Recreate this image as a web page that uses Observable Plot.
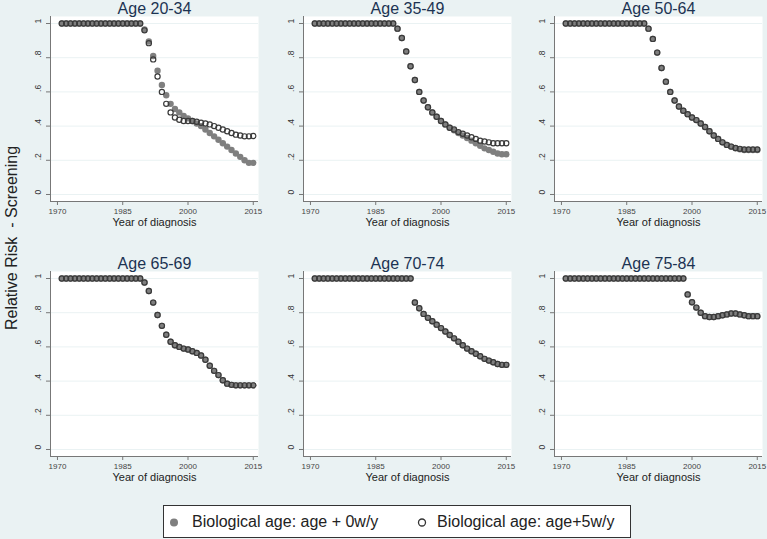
<!DOCTYPE html>
<html>
<head>
<meta charset="utf-8">
<script src="https://cdn.jsdelivr.net/npm/d3@7"></script>
<script src="https://cdn.jsdelivr.net/npm/@observablehq/plot@0.6"></script>
<style>
  html, body { margin: 0; padding: 0; background: #EAF2F3; }
  #wrap { position: relative; width: 767px; height: 539px; background: #EAF2F3; overflow: hidden;
          font-family: "Liberation Sans", Arial, sans-serif; }
  .panel { position: absolute; width: 262px; }
  .panel svg { max-width: none; }
  #ytitle { position: absolute; left: 12px; top: 238px; transform: translate(-50%, -50%) rotate(-90deg);
            white-space: pre; font-size: 16px; color: #222; }
  #legend { position: absolute; left: 163px; top: 505px; width: 468px; height: 33px; background: #fff;
            border: 1px solid #333; box-sizing: border-box; }
  #legend span.t { position: absolute; top: 7px; font-size: 16px; color: #222; white-space: pre; }
  #legend svg { position: absolute; top: 0; left: 0; }
</style>
</head>
<body>
<div id="wrap"></div>
<script>
// ---------- data ----------
const years = d3.range(1971, 2016); // 1971 ... 2015
const xTicks = [1970, 1985, 2000, 2015];
const yTicks = [0, 0.2, 0.4, 0.6, 0.8, 1];
const yTickLabels = ["0", ".2", ".4", ".6", ".8", "1"];
const panelTitles = ["Age 20-34", "Age 35-49", "Age 50-64", "Age 65-69", "Age 70-74", "Age 75-84"];
const seriesNames = ["Biological age: age + 0w/y", "Biological age: age+5w/y"];

// Age 20-34
const age20_34_0w = [1,1,1,1,1,1,1,1,1,1,1,1,1,1,1,1,1,1,1,
  0.965,0.895,0.81,0.724,0.64,0.58,0.53,0.50,0.48,0.46,0.445,0.43,0.415,0.40,0.38,0.36,0.34,0.32,0.30,0.28,0.26,0.24,0.22,0.20,0.185,0.185];
const age20_34_5w = [1,1,1,1,1,1,1,1,1,1,1,1,1,1,1,1,1,1,1,
  0.96,0.885,0.79,0.69,0.60,0.53,0.48,0.45,0.437,0.43,0.43,0.43,0.425,0.42,0.415,0.41,0.40,0.39,0.38,0.37,0.36,0.35,0.345,0.34,0.34,0.342];
// Age 35-49
const age35_49_0w = [1,1,1,1,1,1,1,1,1,1,1,1,1,1,1,1,1,1,1,
  0.97,0.915,0.837,0.75,0.67,0.60,0.55,0.51,0.48,0.455,0.43,0.41,0.39,0.375,0.36,0.345,0.33,0.315,0.30,0.285,0.27,0.26,0.25,0.24,0.235,0.235];
const age35_49_5w = [1,1,1,1,1,1,1,1,1,1,1,1,1,1,1,1,1,1,1,
  0.97,0.915,0.837,0.75,0.67,0.60,0.55,0.51,0.48,0.455,0.43,0.41,0.39,0.38,0.365,0.355,0.345,0.335,0.325,0.315,0.31,0.305,0.30,0.30,0.30,0.30];
// Age 50-64
const age50_64_0w = [1,1,1,1,1,1,1,1,1,1,1,1,1,1,1,1,1,1,1,
  0.97,0.91,0.83,0.74,0.66,0.60,0.55,0.515,0.49,0.47,0.45,0.435,0.415,0.395,0.37,0.345,0.325,0.305,0.29,0.28,0.27,0.265,0.26,0.26,0.26,0.26];
const age50_64_5w = [1,1,1,1,1,1,1,1,1,1,1,1,1,1,1,1,1,1,1,
  0.97,0.91,0.83,0.74,0.66,0.60,0.55,0.515,0.49,0.47,0.45,0.435,0.415,0.395,0.37,0.345,0.325,0.305,0.29,0.28,0.272,0.267,0.263,0.263,0.263,0.263];
// Age 65-69
const age65_69_0w = [1,1,1,1,1,1,1,1,1,1,1,1,1,1,1,1,1,1,1,
  0.977,0.927,0.859,0.787,0.723,0.671,0.63,0.61,0.60,0.59,0.585,0.575,0.565,0.55,0.525,0.49,0.46,0.435,0.405,0.385,0.378,0.375,0.375,0.375,0.375,0.375];
const age65_69_5w = [1,1,1,1,1,1,1,1,1,1,1,1,1,1,1,1,1,1,1,
  0.977,0.927,0.859,0.787,0.723,0.671,0.63,0.61,0.60,0.59,0.585,0.575,0.565,0.55,0.525,0.49,0.46,0.435,0.405,0.385,0.378,0.375,0.375,0.375,0.375,0.375];
// Age 70-74
const age70_74_0w = [1,1,1,1,1,1,1,1,1,1,1,1,1,1,1,1,1,1,1,1,1,1,1,
  0.86,0.826,0.793,0.77,0.75,0.73,0.71,0.69,0.67,0.65,0.63,0.61,0.59,0.575,0.56,0.545,0.53,0.52,0.51,0.50,0.495,0.495];
const age70_74_5w = [1,1,1,1,1,1,1,1,1,1,1,1,1,1,1,1,1,1,1,1,1,1,1,
  0.86,0.826,0.793,0.77,0.75,0.73,0.71,0.69,0.67,0.65,0.63,0.61,0.59,0.575,0.56,0.545,0.53,0.52,0.51,0.50,0.495,0.495];
// Age 75-84
const age75_84_0w = [1,1,1,1,1,1,1,1,1,1,1,1,1,1,1,1,1,1,1,1,1,1,1,1,1,1,1,1,
  0.907,0.861,0.83,0.80,0.78,0.775,0.775,0.78,0.785,0.79,0.795,0.795,0.79,0.785,0.78,0.78,0.78];
const age75_84_5w = [1,1,1,1,1,1,1,1,1,1,1,1,1,1,1,1,1,1,1,1,1,1,1,1,1,1,1,1,
  0.907,0.861,0.83,0.80,0.78,0.775,0.775,0.78,0.785,0.79,0.795,0.795,0.79,0.785,0.78,0.78,0.78];

const seriesA = [age20_34_0w, age35_49_0w, age50_64_0w, age65_69_0w, age70_74_0w, age75_84_0w];
const seriesB = [age20_34_5w, age35_49_5w, age50_64_5w, age65_69_5w, age70_74_5w, age75_84_5w];

// ---------- drawing ----------
const wrap = document.getElementById("wrap");
const font = '"Liberation Sans", Arial, sans-serif';
const colLeft = [0, 253, 504];
const rowTop = [0, 255];
const xDomain = [1968.4, 2016.2];
const yDomain = [-0.041, 1.041];

panelTitles.forEach((title, i) => {
  const a = years.map((yr, j) => ({year: yr, value: seriesA[i][j]}));
  const b = years.map((yr, j) => ({year: yr, value: seriesB[i][j]}));
  const chart = Plot.plot({
    width: 262,
    height: 232,
    marginLeft: 50,
    marginRight: 4,
    marginTop: 16,
    marginBottom: 31,
    style: {background: "none", fontFamily: font, overflow: "visible"},
    x: {domain: xDomain},
    y: {domain: yDomain},
    marks: [
      Plot.frame({fill: "white", stroke: "none"}),
      Plot.gridY(yTicks, {stroke: "#EAF2F3", strokeOpacity: 1, strokeWidth: 1}),
      Plot.ruleX([xDomain[0]], {stroke: "#777", strokeWidth: 1}),
      Plot.ruleY([yDomain[0]], {stroke: "#777", strokeWidth: 1}),
      Plot.axisX({ticks: xTicks, tickSize: 4, tickPadding: 3, tickFormat: d => String(d),
                  fontSize: 8, label: null, stroke: "#777", fill: "#444"}),
      Plot.axisY({ticks: yTicks, tickSize: 4, tickFormat: () => "", label: null, stroke: "#777"}),
      Plot.text(yTicks, {y: d => d, frameAnchor: "left", text: (d, k) => yTickLabels[k],
                         rotate: -90, dx: -12, fontSize: 8.5, fill: "#333"}),
      Plot.text(["Year of diagnosis"], {frameAnchor: "bottom", dy: 24, lineAnchor: "bottom",
                                        fontSize: 11, fill: "#222"}),
      Plot.text([title], {frameAnchor: "top", dy: -3, lineAnchor: "bottom", fontSize: 16, fill: "#1c3352"}),
      Plot.dot(a, {x: "year", y: "value", r: 3.2, fill: "#7f7f7f", stroke: "none"}),
      Plot.dot(b, {x: "year", y: "value", r: 2.6, fill: "none", stroke: "#3a3a3a", strokeWidth: 1.2})
    ]
  });
  const div = document.createElement("div");
  div.className = "panel";
  div.style.left = colLeft[i % 3] + "px";
  div.style.top = rowTop[Math.floor(i / 3)] + "px";
  div.appendChild(chart);
  wrap.appendChild(div);
});

// y title
const yt = document.createElement("div");
yt.id = "ytitle";
yt.textContent = "Relative Risk  - Screening";
wrap.appendChild(yt);

// legend
const leg = document.createElement("div");
leg.id = "legend";
leg.innerHTML =
  `<svg width="468" height="33">
     <circle cx="10" cy="16.5" r="4" fill="#7f7f7f"></circle>
     <circle cx="258" cy="16.5" r="3.5" fill="none" stroke="#333" stroke-width="1.3"></circle>
   </svg>
   <span class="t" style="left:28px">${seriesNames[0]}</span>
   <span class="t" style="left:273px">${seriesNames[1]}</span>`;
wrap.appendChild(leg);
</script>
</body>
</html>
